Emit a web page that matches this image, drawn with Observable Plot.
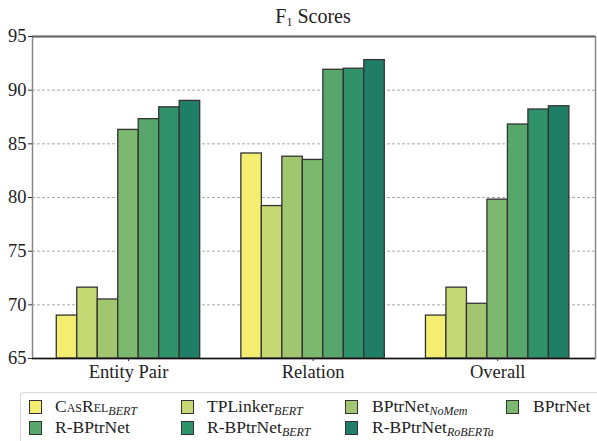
<!DOCTYPE html>
<html><head><meta charset="utf-8">
<script src="https://cdn.jsdelivr.net/npm/d3@7"></script>
<script src="https://cdn.jsdelivr.net/npm/@observablehq/plot@0.6"></script>
<style>
body{margin:0;background:#fff;font-family:"Liberation Serif","Times New Roman",Tinos,"DejaVu Serif",serif;color:#222;}
#wrap{position:relative;width:597px;height:441px;overflow:hidden;}
#title{position:absolute;left:0;width:626px;top:4px;text-align:center;font-size:20px;line-height:24px;}
#title sub{font-size:12px;vertical-align:-3px;line-height:0;}
#chart{position:absolute;left:0;top:0;}
#chart svg text, #chart svg g{font-family:"Liberation Serif","Times New Roman",Tinos,"DejaVu Serif",serif !important;}
#legendbox{position:absolute;left:20px;top:392px;width:640px;height:80px;border:1px solid #d8d8d8;border-radius:4px;}
.item{position:absolute;height:17px;line-height:17px;font-size:17.5px;white-space:nowrap;}
.sw{position:absolute;width:11px;height:12px;border:1.3px solid #333;}
.item sub{font-style:italic;font-size:12px;vertical-align:-3px;line-height:0;}
.sc{font-variant:small-caps;}
</style>
</head><body>
<div id="wrap">
  <div id="chart"></div>
  <div id="title">F<sub>1</sub> Scores</div>
  <div id="legendbox"></div>
  <div id="legend"></div>
</div>
<script>
const groups = ["Entity Pair", "Relation", "Overall"];
const models = ["CasRel_BERT", "TPLinker_BERT", "BPtrNet_NoMem", "BPtrNet", "R-BPtrNet", "R-BPtrNet_BERT", "R-BPtrNet_RoBERTa"];
const colors = ["#f3ee70", "#c7d975", "#a2c56f", "#7cb86d", "#57a66b", "#2f926a", "#1f7e65"];
const casrel = [69.0, 84.1, 69.0];
const tplinker = [71.6, 79.2, 71.6];
const bptrnetNoMem = [70.5, 83.8, 70.1];
const bptrnet = [86.3, 83.5, 79.8];
const rbptrnet = [87.3, 91.9, 86.8];
const rbptrnetBert = [88.4, 92.0, 88.2];
const rbptrnetRoberta = [89.0, 92.8, 88.5];
const yTicks = [65, 70, 75, 80, 85, 90, 95];
const gridTicks = [70, 75, 80, 85, 90];

const series = [casrel, tplinker, bptrnetNoMem, bptrnet, rbptrnet, rbptrnetBert, rbptrnetRoberta];
const barW = 0.111;
const yMin = 65, yMax = 95;
const table = [];
series.forEach((vals, j) => {
  vals.forEach((v, i) => {
    table.push({model: models[j], g: i, x1: i + (j - 3.5) * barW, x2: i + (j - 2.5) * barW, y: v, color: colors[j]});
  });
});

const plot = Plot.plot({
  width: 597,
  height: 441,
  marginLeft: 32,
  marginRight: 2,
  marginTop: 36,
  marginBottom: 83,
  style: {fontFamily: "Liberation Serif, Times New Roman, serif", fontSize: "18.5px", color: "#222", background: "transparent"},
  x: {domain: [-0.52, 2.53], axis: null, label: null},
  y: {domain: [yMin, yMax], axis: null, label: null},
  marks: [
    Plot.ruleY(gridTicks, {stroke: "#aaa", strokeWidth: 1, strokeDasharray: "3,2"}),
    Plot.rect(table, {x1: "x1", x2: "x2", y1: yMin, y2: "y", fill: "color", stroke: "#333", strokeWidth: 1.3}),
    Plot.frame({stroke: "#888", strokeWidth: 1.5}),
    Plot.ruleY([yMax], {stroke: "#666", strokeWidth: 2}),
    Plot.ruleY([yMin], {stroke: "#111", strokeWidth: 1.5}),
    Plot.axisY({ticks: yTicks, tickSize: 4, tickPadding: 2, fontSize: 18.5, stroke: "#333", label: null}),
    Plot.axisX({ticks: [0, 1, 2], tickFormat: i => groups[i], tickSize: 3, tickPadding: 3, fontSize: 18.5, stroke: "#333", label: null})
  ]
});
document.getElementById("chart").appendChild(plot);

// legend
const legendPos = [
  {sx: 29, tx: 55, row: 0}, {sx: 181, tx: 207, row: 0}, {sx: 345, tx: 372, row: 0}, {sx: 506, tx: 533, row: 0},
  {sx: 29, tx: 55, row: 1}, {sx: 181, tx: 207, row: 1}, {sx: 345, tx: 372, row: 1}
];
const rowY = [407, 428];
const leg = document.getElementById("legend");
models.forEach((m, j) => {
  const p = legendPos[j];
  const sw = document.createElement("div");
  sw.className = "sw";
  sw.style.left = p.sx + "px";
  sw.style.top = (rowY[p.row] - 7) + "px";
  sw.style.background = colors[j];
  leg.appendChild(sw);
  const it = document.createElement("div");
  it.className = "item";
  it.style.left = p.tx + "px";
  it.style.top = (rowY[p.row] - 9) + "px";
  const [base, sub] = m.split("_");
  const baseHtml = base === "CasRel" ? '<span class="sc">CasRel</span>' : base;
  it.innerHTML = baseHtml + (sub ? "<sub>" + sub + "</sub>" : "");
  leg.appendChild(it);
});
</script>
</body></html>
